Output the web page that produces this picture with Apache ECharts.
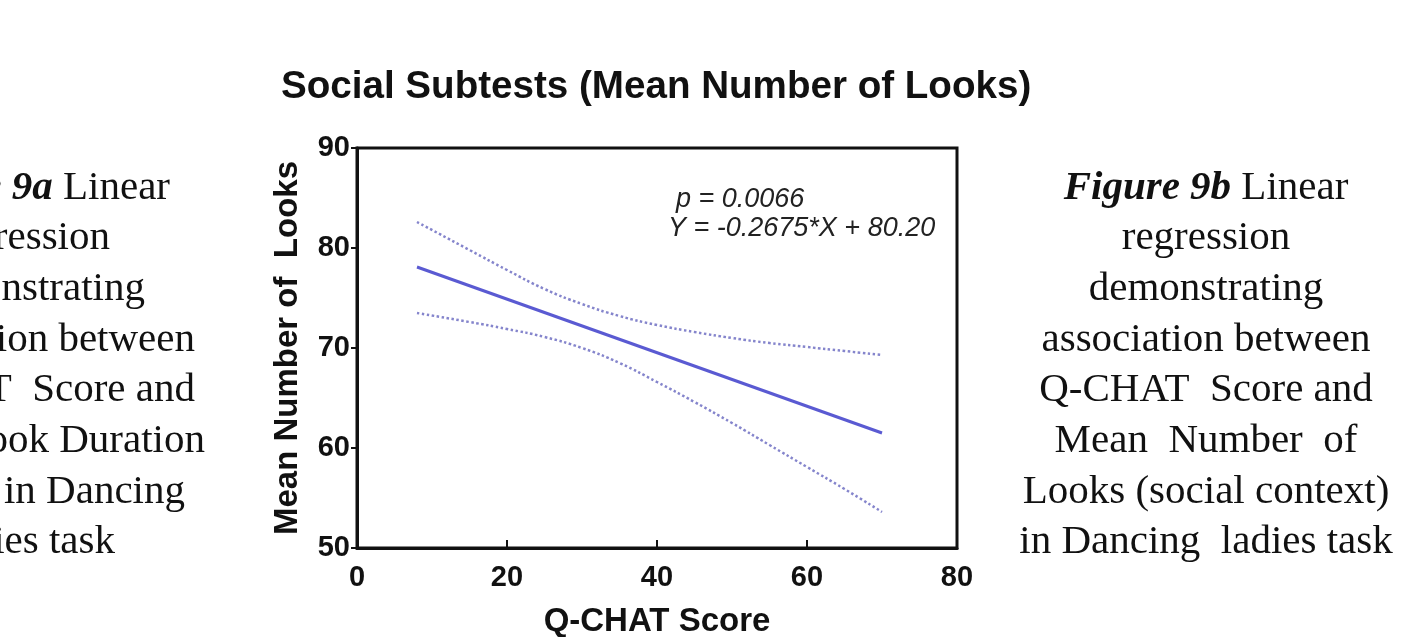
<!DOCTYPE html>
<html>
<head>
<meta charset="utf-8">
<script src="https://cdn.jsdelivr.net/npm/echarts@6/dist/echarts.min.js"></script>
<style>
html,body{margin:0;padding:0;background:#fff;}
#chart{width:1428px;height:637px;}
</style>
</head>
<body>
<div id="chart"></div>
<script>
// ---- data ----
var xTicks = [0, 20, 40, 60, 80];
var yTicks = [50, 60, 70, 80, 90];
var fitX = [8, 70];
var fitY = [78.1, 61.5];
var ciX = [8, 15, 20, 25, 30, 35, 40, 45, 50, 55, 60, 65, 70];
var ciUpper = [82.6, 79.8, 77.8, 75.9, 74.4, 73.2, 72.3, 71.6, 71.0, 70.5, 70.1, 69.7, 69.3];
var ciLower = [73.5, 72.6, 71.9, 71.1, 70.0, 68.5, 66.6, 64.6, 62.5, 60.3, 58.1, 55.9, 53.6];
var titleText = 'Social Subtests (Mean Number of Looks)';
var xName = 'Q-CHAT Score';
var yName = 'Mean Number of  Looks';
var pText = 'p = 0.0066';
var eqText = 'Y = -0.2675*X + 80.20';
var leftCaption = ['Figure 9a Linear', 'regression', 'demonstrating', 'association between', 'Q-CHAT  Score and', 'Mean Look Duration', '(social context) in Dancing', 'ladies task'];
var rightCaption = ['{bi|Figure 9b} Linear', 'regression', 'demonstrating', 'association between', 'Q-CHAT  Score and', 'Mean  Number  of', 'Looks (social context)', 'in Dancing  ladies task'];

function pairs(xs, ys) { return xs.map(function (x, i) { return [x, ys[i]]; }); }

var chart = echarts.init(document.getElementById('chart'), null, {renderer: 'canvas'});

var leftEdges = [170, 110, 145, 195, 195, 205, 185, 115];
var lineYs = [188, 238, 289, 340, 390, 441, 492, 542];
var richStyles = {bi: {fontFamily: 'Liberation Serif', fontSize: 41, fontWeight: 'bold', fontStyle: 'italic', fill: '#111'}};
var graphics = [];
leftCaption.forEach(function (t, i) {
  var rich = t.replace('Figure 9a', '{bi|Figure 9a}');
  graphics.push({
    type: 'text', x: leftEdges[i], y: lineYs[i],
    style: {text: rich, textAlign: 'right', textVerticalAlign: 'middle',
      font: '41px "Liberation Serif"', fill: '#111', rich: richStyles}
  });
});
rightCaption.forEach(function (t, i) {
  graphics.push({
    type: 'text', x: 1206, y: lineYs[i],
    style: {text: t, textAlign: 'center', textVerticalAlign: 'middle',
      font: '41px "Liberation Serif"', fill: '#111', rich: richStyles}
  });
});
graphics.push({type: 'text', x: 676, y: 199, style: {text: pText, textVerticalAlign: 'middle', font: 'italic 27px "Liberation Sans"', fill: '#222'}});
graphics.push({type: 'text', x: 668, y: 228, style: {text: eqText, textVerticalAlign: 'middle', font: 'italic 27px "Liberation Sans"', fill: '#222'}});

var option = {
  backgroundColor: '#fff',
  animation: false,
  title: {
    text: titleText, left: 276, top: 63,
    textStyle: {fontFamily: 'Liberation Sans', fontSize: 38.6, fontWeight: 'bold', color: '#111'}
  },
  grid: {left: 357, right: 471, top: 148, bottom: 89, containLabel: false, outerBoundsMode: 'none',
    show: true, borderColor: '#111', borderWidth: 3, backgroundColor: 'transparent'},
  xAxis: {
    type: 'value', min: xTicks[0], max: xTicks[xTicks.length - 1], interval: xTicks[1] - xTicks[0],
    name: xName, nameLocation: 'middle', nameGap: 57,
    nameTextStyle: {fontFamily: 'Liberation Sans', fontSize: 33, fontWeight: 'bold', color: '#111'},
    axisLine: {lineStyle: {color: '#111', width: 3}},
    axisTick: {inside: true, length: 8, lineStyle: {color: '#111', width: 2}},
    axisLabel: {fontFamily: 'Liberation Sans', fontSize: 29, fontWeight: 'bold', color: '#111', margin: 15},
    splitLine: {show: false}
  },
  yAxis: {
    type: 'value', min: yTicks[0], max: yTicks[yTicks.length - 1], interval: yTicks[1] - yTicks[0],
    name: yName, nameLocation: 'middle', nameGap: 53, nameRotate: 90,
    nameTextStyle: {fontFamily: 'Liberation Sans', fontSize: 33, fontWeight: 'bold', color: '#111'},
    axisLine: {lineStyle: {color: '#111', width: 3}},
    axisTick: {inside: false, length: 6, lineStyle: {color: '#111', width: 2}},
    axisLabel: {fontFamily: 'Liberation Sans', fontSize: 29, fontWeight: 'bold', color: '#111', margin: 7},
    splitLine: {show: false}
  },
  series: [
    {type: 'line', data: pairs(ciX, ciUpper), showSymbol: false, smooth: true,
     lineStyle: {color: '#8585cc', width: 2.5, type: 'dotted'}},
    {type: 'line', data: pairs(ciX, ciLower), showSymbol: false, smooth: true,
     lineStyle: {color: '#8585cc', width: 2.5, type: 'dotted'}},
    {type: 'line', data: pairs(fitX, fitY), showSymbol: false,
     lineStyle: {color: '#5a5ad2', width: 3}}
  ],
  graphic: graphics
};
chart.setOption(option);
</script>
</body>
</html>
